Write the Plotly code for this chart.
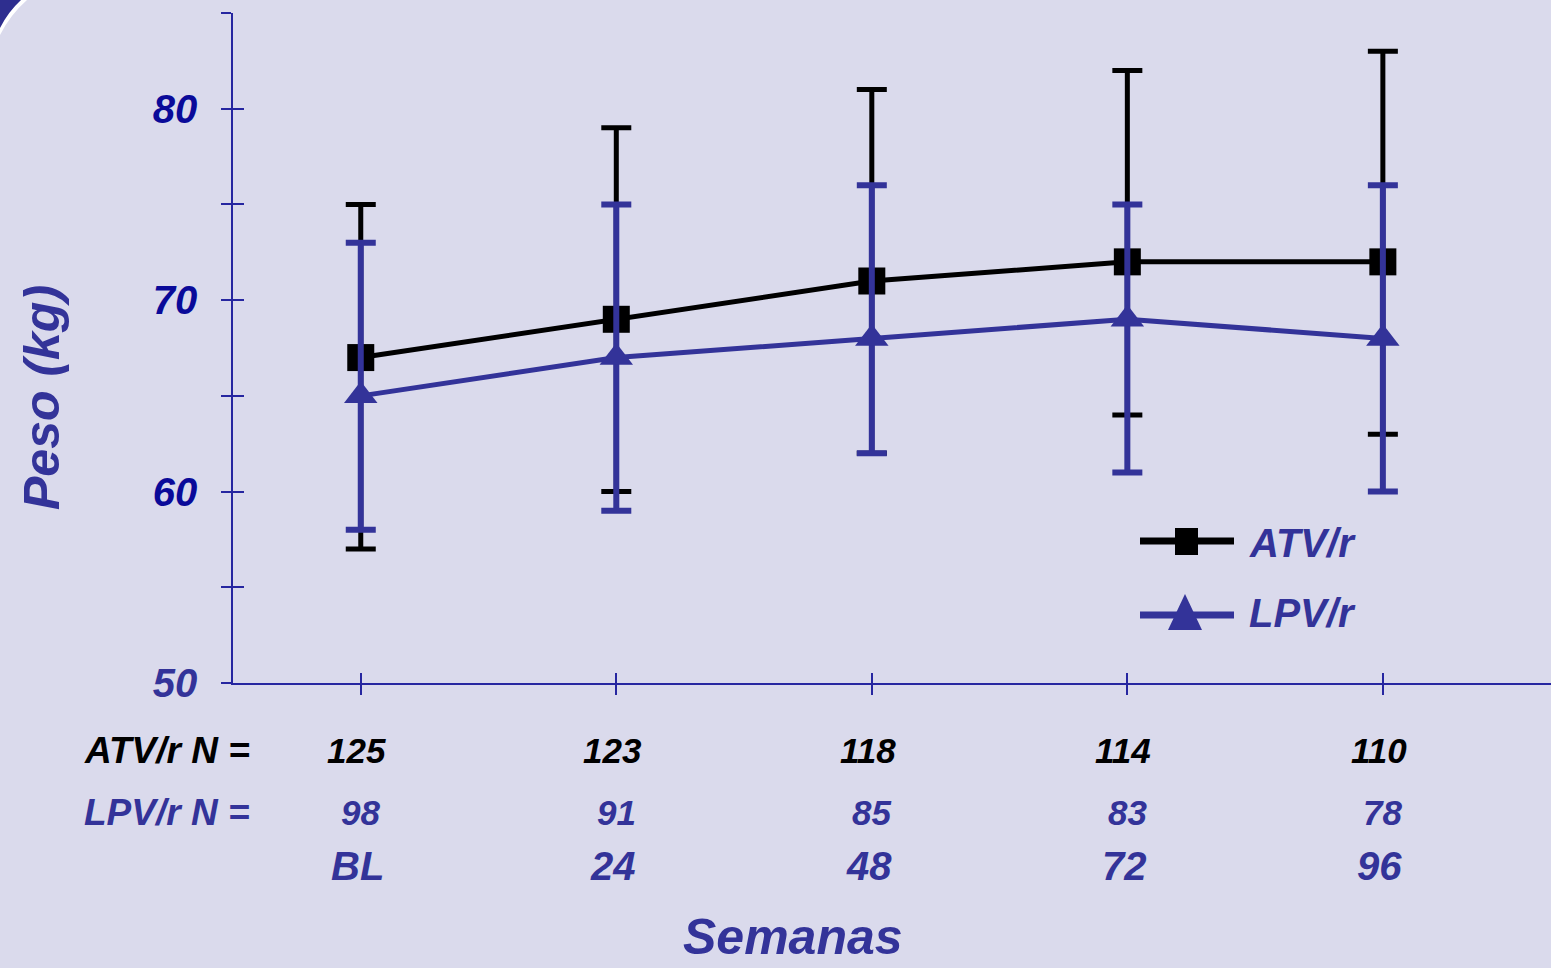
import plotly.graph_objects as go

# Study visits and body-weight summary (kg)
semanas = ["BL", "24", "48", "72", "96"]
atv_n = [125, 123, 118, 114, 110]
lpv_n = [98, 91, 85, 83, 78]

atv_media = [67, 69, 71, 72, 72]
atv_sup = [75, 79, 81, 82, 83]
atv_inf = [57, 60, 62, 64, 63]

lpv_media = [65, 67, 68, 69, 68]
lpv_sup = [73, 75, 76, 75, 76]
lpv_inf = [58, 59, 62, 61, 60]

y_ticks = [50, 55, 60, 65, 70, 75, 80, 85]

W, H = 1551, 968
ML, MR, MT, MB = 233, 0, 13, 285
PW, PH = W - ML - MR, H - MT - MB

BLUE = "#333399"
DARK = "#0a0a99"
AXIS = "#2626a0"
BG = "#dadaec"
FONT = "Liberation Sans, Arial, sans-serif"


def px(x):
    return (x - ML) / PW


def py(y):
    return (H - MB - y) / PH


pos = list(range(len(semanas)))


def err(media, sup, inf):
    return dict(type="data", symmetric=False,
                array=[s - m for s, m in zip(sup, media)],
                arrayminus=[m - i for m, i in zip(media, inf)])


fig = go.Figure()

fig.add_trace(go.Scatter(
    x=pos, y=atv_media, mode="lines+markers", name="ATV/r",
    line=dict(color="black", width=5),
    marker=dict(symbol="square", size=27, color="black"),
    error_y=dict(**err(atv_media, atv_sup, atv_inf), color="black", thickness=5, width=15),
    showlegend=False,
))
fig.add_trace(go.Scatter(
    x=pos, y=lpv_media, mode="lines+markers", name="LPV/r",
    line=dict(color=BLUE, width=5),
    marker=dict(symbol="triangle-up", size=29, color=BLUE),
    error_y=dict(**err(lpv_media, lpv_sup, lpv_inf), color=BLUE, thickness=6, width=15),
    showlegend=False,
))
# companion axes carrying the inner half of the crossing ticks
fig.add_trace(go.Scatter(x=[], y=[], xaxis="x2", yaxis="y2", showlegend=False))

xr = [-0.5, 4.658]
yr = [50, 85]

ylab = []
for v in y_ticks:
    if v == 50:
        ylab.append(f"<span style='color:{BLUE}'>{v}</span>")
    elif v % 10 == 0:
        ylab.append(str(v))
    else:
        ylab.append("")

fig.update_layout(
    width=W, height=H,
    margin=dict(l=ML, r=MR, t=MT, b=MB),
    paper_bgcolor=BG, plot_bgcolor=BG,
    font=dict(family=FONT),
    xaxis=dict(range=xr, showgrid=False, zeroline=False, showline=True,
               linecolor=AXIS, linewidth=2, tickvals=pos, ticktext=[""] * len(pos),
               ticks="outside", ticklen=10, tickwidth=1.5, tickcolor=AXIS),
    yaxis=dict(range=yr, showgrid=False, zeroline=False, showline=True,
               linecolor=AXIS, linewidth=1.5, tickvals=y_ticks, ticktext=ylab,
               ticks="outside", ticklen=10, tickwidth=1.5, tickcolor=AXIS,
               ticklabelstandoff=16,
               tickfont=dict(size=40, color=DARK, family=FONT, weight="bold", style="italic")),
    xaxis2=dict(range=xr, overlaying="x", anchor="y2", showgrid=False, zeroline=False,
                showline=False, tickvals=pos, showticklabels=False,
                ticks="inside", ticklen=10, tickwidth=1.5, tickcolor=AXIS),
    yaxis2=dict(range=yr, overlaying="y", anchor="x2", showgrid=False, zeroline=False,
                showline=False, tickvals=y_ticks, showticklabels=False,
                ticks="inside", ticklen=11, tickwidth=1.5, tickcolor=AXIS),
)

bi = dict(family=FONT, weight="bold", style="italic")
ann = []

# N rows and week labels under each visit
for i in pos:
    ann.append(dict(x=i, y=py(750), xref="x", yref="paper", text=str(atv_n[i]),
                    showarrow=False, xanchor="center", yanchor="middle", xshift=-4,
                    font=dict(size=35, color="black", **bi)))
    ann.append(dict(x=i, y=py(813), xref="x", yref="paper", text=str(lpv_n[i]),
                    showarrow=False, xanchor="center", yanchor="middle",
                    font=dict(size=35, color=BLUE, **bi)))
    ann.append(dict(x=i, y=py(866), xref="x", yref="paper", text=semanas[i],
                    showarrow=False, xanchor="center", yanchor="middle", xshift=-3,
                    font=dict(size=40, color=BLUE, **bi)))

ann.append(dict(x=px(252), y=py(750), xref="paper", yref="paper", text="ATV/r N =",
                showarrow=False, xanchor="right", yanchor="middle",
                font=dict(size=37, color="black", **bi)))
ann.append(dict(x=px(252), y=py(813), xref="paper", yref="paper", text="LPV/r N =",
                showarrow=False, xanchor="right", yanchor="middle",
                font=dict(size=37, color=BLUE, **bi)))

# axis titles
ann.append(dict(x=px(793), y=py(937), xref="paper", yref="paper", text="Semanas",
                showarrow=False, xanchor="center", yanchor="middle",
                font=dict(size=50, color=BLUE, **bi)))
ann.append(dict(x=px(42), y=py(398), xref="paper", yref="paper", text="Peso (kg)",
                showarrow=False, xanchor="center", yanchor="middle", textangle=-90,
                font=dict(size=50, color=BLUE, **bi)))

# legend labels
ann.append(dict(x=px(1247), y=py(543), xref="paper", yref="paper", text="ATV/r",
                showarrow=False, xanchor="left", yanchor="middle",
                font=dict(size=40, color=BLUE, **bi)))
ann.append(dict(x=px(1247), y=py(613), xref="paper", yref="paper", text="LPV/r",
                showarrow=False, xanchor="left", yanchor="middle",
                font=dict(size=40, color=BLUE, **bi)))

shapes = []
# legend samples
shapes.append(dict(type="line", xref="paper", yref="paper",
                   x0=px(1140), x1=px(1234), y0=py(541), y1=py(541),
                   line=dict(color="black", width=7)))
shapes.append(dict(type="rect", xref="paper", yref="paper",
                   x0=px(1175), x1=px(1198), y0=py(528), y1=py(555),
                   fillcolor="black", line=dict(width=0)))
shapes.append(dict(type="line", xref="paper", yref="paper",
                   x0=px(1140), x1=px(1234), y0=py(615), y1=py(615),
                   line=dict(color=BLUE, width=7)))
shapes.append(dict(type="path", xref="paper", yref="paper",
                   path=(f"M {px(1168)},{py(630)} L {px(1202)},{py(630)} "
                         f"L {px(1185)},{py(594)} Z"),
                   fillcolor=BLUE, line=dict(width=0)))

# corner ornament: white band behind a blue wedge
shapes.append(dict(type="path", xref="paper", yref="paper",
                   path=(f"M {px(0)},{py(0)} L {px(27)},{py(0)} "
                         f"Q {px(10)},{py(15)} {px(0)},{py(35)} Z"),
                   fillcolor="white", line=dict(width=0)))
shapes.append(dict(type="path", xref="paper", yref="paper",
                   path=(f"M {px(0)},{py(0)} L {px(21)},{py(0)} "
                         f"Q {px(8)},{py(12)} {px(0)},{py(28)} Z"),
                   fillcolor="#2e2e8f", line=dict(width=0)))

fig.update_layout(annotations=ann, shapes=shapes)

fig.write_html("out.html")
